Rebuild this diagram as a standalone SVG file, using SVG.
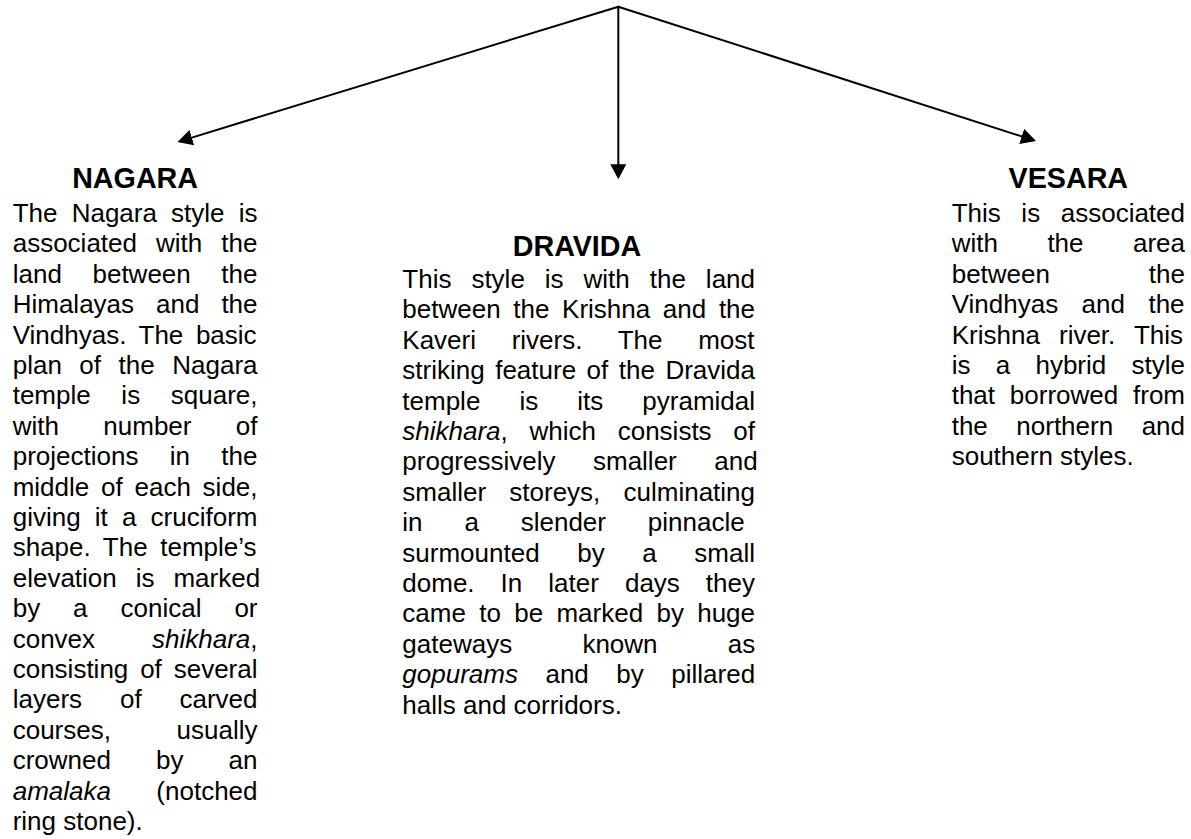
<svg xmlns="http://www.w3.org/2000/svg" width="1191" height="839" viewBox="0 0 1191 839">
<style>
text{font-family:"Liberation Sans",Arial,sans-serif;fill:#000}
.b{font-size:26px}
.h{font-size:28.7px;font-weight:bold;text-anchor:middle}
.i{font-style:italic}
.c{fill:none;stroke:#000;stroke-width:2;stroke-linecap:round}
</style>
<defs>
<marker id="ah" markerUnits="userSpaceOnUse" markerWidth="15" markerHeight="16" refX="0" refY="8" orient="auto">
<path d="M0,0 L15,8 L0,16 z" fill="#000"/>
</marker>
</defs>
<rect width="1191" height="839" fill="#fff"/>
<g id="connectors">
<path class="c" d="M618.3,6.7 L191.84,137.6" marker-end="url(#ah)"/>
<path class="c" d="M618.3,6.7 L618.3,164.3" marker-end="url(#ah)"/>
<path class="c" d="M618.3,6.7 L1021.72,136.41" marker-end="url(#ah)"/>
</g>
<g id="nagara">
<text class="h" x="135.1" y="188">NAGARA</text>
<text class="b" x="12.7" y="222" style="word-spacing:6.95px">The Nagara style is</text>
<text class="b" x="12.7" y="252.4" style="word-spacing:11.85px">associated with the</text>
<text class="b" x="12.7" y="282.8" style="word-spacing:23.39px">land between the</text>
<text class="b" x="12.7" y="313.2" style="word-spacing:14.75px">Himalayas and the</text>
<text class="b" x="12.7" y="343.6" style="word-spacing:5.35px">Vindhyas. The basic</text>
<text class="b" x="12.7" y="374" style="word-spacing:10.3px">plan of the Nagara</text>
<text class="b" x="12.7" y="404.4" style="word-spacing:23.42px">temple is square,</text>
<text class="b" x="12.7" y="434.8" style="word-spacing:37.15px">with number of</text>
<text class="b" x="12.7" y="465.2" style="word-spacing:24.13px">projections in the</text>
<text class="b" x="12.7" y="495.6" style="word-spacing:4.53px">middle of each side,</text>
<text class="b" x="12.7" y="526" style="word-spacing:6.95px">giving it a cruciform</text>
<text class="b" x="12.7" y="556.4" style="word-spacing:5.35px">shape. The temple’s</text>
<text class="b" x="12.7" y="586.8" style="word-spacing:11.72px">elevation is marked</text>
<text class="b" x="12.7" y="617.2" style="word-spacing:25.73px">by a conical or</text>
<text class="b" x="12.7" y="647.6" style="word-spacing:49.72px">convex <tspan class="i">shikhara</tspan>,</text>
<text class="b" x="12.7" y="678" style="word-spacing:4.63px">consisting of several</text>
<text class="b" x="12.7" y="708.4" style="word-spacing:30.65px">layers of carved</text>
<text class="b" x="12.7" y="738.8" style="word-spacing:58.41px">courses, usually</text>
<text class="b" x="12.7" y="769.2" style="word-spacing:37.86px">crowned by an</text>
<text class="b" x="12.7" y="799.6" style="word-spacing:38.15px"><tspan class="i">amalaka</tspan> (notched</text>
<text class="b" x="12.7" y="830">ring stone).</text>
</g>
<g id="dravida">
<text class="h" x="577" y="256">DRAVIDA</text>
<text class="b" x="402.3" y="288" style="word-spacing:12.74px">This style is with the land</text>
<text class="b" x="402.3" y="318.4" style="word-spacing:5.43px">between the Krishna and the</text>
<text class="b" x="402.3" y="348.8" style="word-spacing:28.47px">Kaveri rivers. The most</text>
<text class="b" x="402.3" y="379.2" style="word-spacing:3.28px">striking feature of the Dravida</text>
<text class="b" x="402.3" y="409.6" style="word-spacing:31.84px">temple is its pyramidal</text>
<text class="b" x="402.3" y="440" style="word-spacing:14.49px"><tspan class="i">shikhara</tspan>, which consists of</text>
<text class="b" x="402.3" y="470.4" style="word-spacing:30.28px">progressively smaller and</text>
<text class="b" x="402.3" y="500.8" style="word-spacing:15.98px">smaller storeys, culminating</text>
<text class="b" x="402.3" y="531.2" style="word-spacing:34.62px">in a slender pinnacle</text>
<text class="b" x="402.3" y="561.6" style="word-spacing:30.39px">surmounted by a small</text>
<text class="b" x="402.3" y="592" style="word-spacing:18.81px">dome. In later days they</text>
<text class="b" x="402.3" y="622.4" style="word-spacing:6.09px">came to be marked by huge</text>
<text class="b" x="402.3" y="652.8" style="word-spacing:63.04px">gateways known as</text>
<text class="b" x="402.3" y="683.2" style="word-spacing:20.3px"><tspan class="i">gopurams</tspan> and by pillared</text>
<text class="b" x="402.3" y="713.6">halls and corridors.</text>
</g>
<g id="vesara">
<text class="h" x="1068.3" y="187.5">VESARA</text>
<text class="b" x="951.7" y="222" style="word-spacing:13.34px">This is associated</text>
<text class="b" x="951.7" y="252.4" style="word-spacing:42.23px">with the area</text>
<text class="b" x="951.7" y="282.8" style="word-spacing:91.65px">between the</text>
<text class="b" x="951.7" y="313.2" style="word-spacing:16.2px">Vindhyas and the</text>
<text class="b" x="951.7" y="343.6" style="word-spacing:11.91px">Krishna river. This</text>
<text class="b" x="951.7" y="374" style="word-spacing:18.04px">is a hybrid style</text>
<text class="b" x="951.7" y="404.4" style="word-spacing:7.55px">that borrowed from</text>
<text class="b" x="951.7" y="434.8" style="word-spacing:21.26px">the northern and</text>
<text class="b" x="951.7" y="465.2">southern styles.</text>
</g>
</svg>
